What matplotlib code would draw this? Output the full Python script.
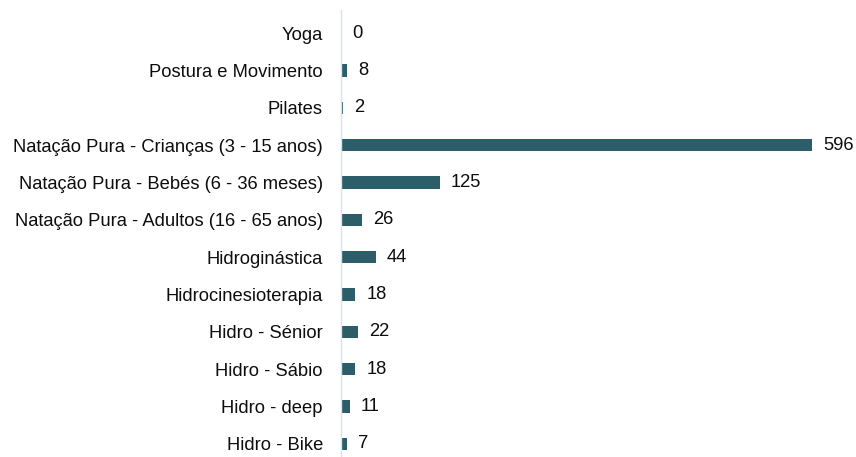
import numpy as np
import matplotlib
matplotlib.use('Agg')
import matplotlib.pyplot as plt

plt.rcParams['font.family'] = ['Liberation Sans Narrow', 'Liberation Sans', 'DejaVu Sans']

categories = ['Yoga', 'Postura e Movimento', 'Pilates',
              'Natação Pura - Crianças (3 - 15 anos)',
              'Natação Pura - Bebés (6 - 36 meses)',
              'Natação Pura - Adultos (16 - 65 anos)',
              'Hidroginástica', 'Hidrocinesioterapia', 'Hidro - Sénior',
              'Hidro - Sábio', 'Hidro - deep', 'Hidro - Bike']
values = [0, 8, 2, 596, 125, 26, 44, 18, 22, 18, 11, 7]

bar_color = '#2c5e69'
text_color = '#0d0d0d'

fig = plt.figure(figsize=(8.56, 4.57), dpi=100)
ax = fig.add_axes([341/856, 0, (812-341)/856, 447/457])

ypos = np.arange(len(categories))
ax.barh(ypos, values, height=0.33, color=bar_color)
for y, v in zip(ypos, values):
    ax.annotate(str(v), (v, y), xytext=(8, 0), textcoords='offset points',
                va='center', ha='left', fontsize=13.2, color=text_color)

ax.set_xlim(0, 596)
ax.set_ylim(11.35, -0.616)
ax.set_yticks(ypos)
ax.set_yticklabels(categories, fontsize=13.2, color=text_color)
ax.tick_params(axis='y', length=0, pad=13)
ax.set_xticks([])
for s in ['top', 'right', 'bottom']:
    ax.spines[s].set_visible(False)
ax.spines['left'].set_color('#d6e3f0')
ax.spines['left'].set_linewidth(1)

fig.savefig('out.png', dpi=100)
